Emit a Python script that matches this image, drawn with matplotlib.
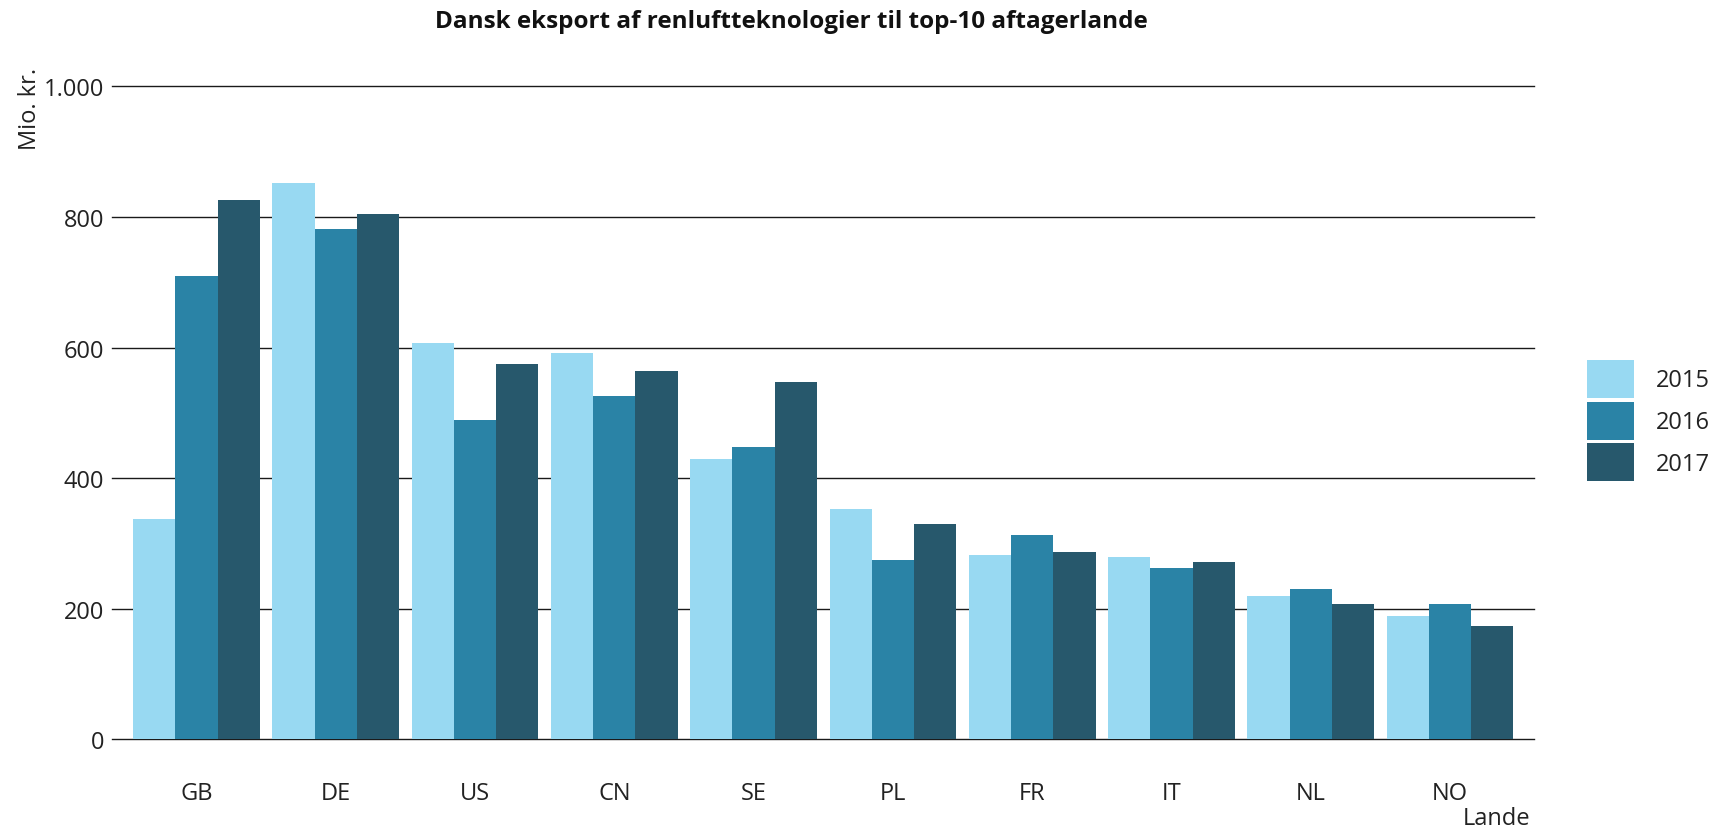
import matplotlib
matplotlib.use("Agg")
import matplotlib.pyplot as plt
import numpy as np

countries = ["GB", "DE", "US", "CN", "SE", "PL", "FR", "IT", "NL", "NO"]
years = ["2015", "2016", "2017"]
v2015 = [337, 852, 607, 592, 429, 353, 282, 279, 220, 189]
v2016 = [709, 781, 489, 526, 448, 275, 313, 262, 230, 207]
v2017 = [826, 804, 575, 564, 547, 330, 287, 272, 207, 174]
yticks = [0, 200, 400, 600, 800, 1000]
ytick_labels = ["0", "200", "400", "600", "800", "1.000"]
colors = ["#98D9F2", "#2A83A6", "#27586C"]

plt.rcParams['font.family'] = ['Open Sans', 'DejaVu Sans']

fig = plt.figure(figsize=(17.11, 8.29), dpi=100)
ax = fig.add_axes([0.0657, 0.1068, 0.8309, 0.7879])

x = np.arange(len(countries))
w = 0.303
series = [v2015, v2016, v2017]
for i, (vals, c, yr) in enumerate(zip(series, colors, years)):
    ax.bar(x + (i - 1) * w, vals, width=w, color=c, label=yr, zorder=3, linewidth=0)

for t in yticks:
    ax.axhline(t, color="#1a1a1a", linewidth=1.0, zorder=1, clip_on=False)

ax.set_xlim(-0.603, 9.603)
ax.set_ylim(0, 1000)
ax.set_yticks(yticks)
ax.set_yticklabels(ytick_labels)
ax.set_xticks(x)
ax.set_xticklabels(countries)
ax.tick_params(axis='both', length=0, labelsize=17, colors="#222222")
ax.tick_params(axis='x', pad=30)
ax.tick_params(axis='y', pad=6)
for s in ax.spines.values():
    s.set_visible(False)

fig.text(0.4624, 0.974, "Dansk eksport af renluftteknologier til top-10 aftagerlande",
         ha='center', va='center', fontsize=17.5, fontweight='bold', color="#111111")
fig.text(0.0178, 1 - 67.6 / 829, "Mio. kr.", rotation=90, ha='center', va='top',
         fontsize=17, color="#222222")
fig.text(1530 / 1711, 1 - 819.5 / 829, "Lande", ha='right', va='center',
         fontsize=17, color="#222222")

leg = fig.legend(loc='upper left', bbox_to_anchor=(1587 / 1711, 1 - 361 / 829), frameon=False,
                 fontsize=17, handlelength=2.0, handleheight=2.1, labelspacing=0.15,
                 handletextpad=0.93, borderpad=0, borderaxespad=0)
for t in leg.get_texts():
    t.set_color("#222222")

fig.savefig("out.png", dpi=100)
